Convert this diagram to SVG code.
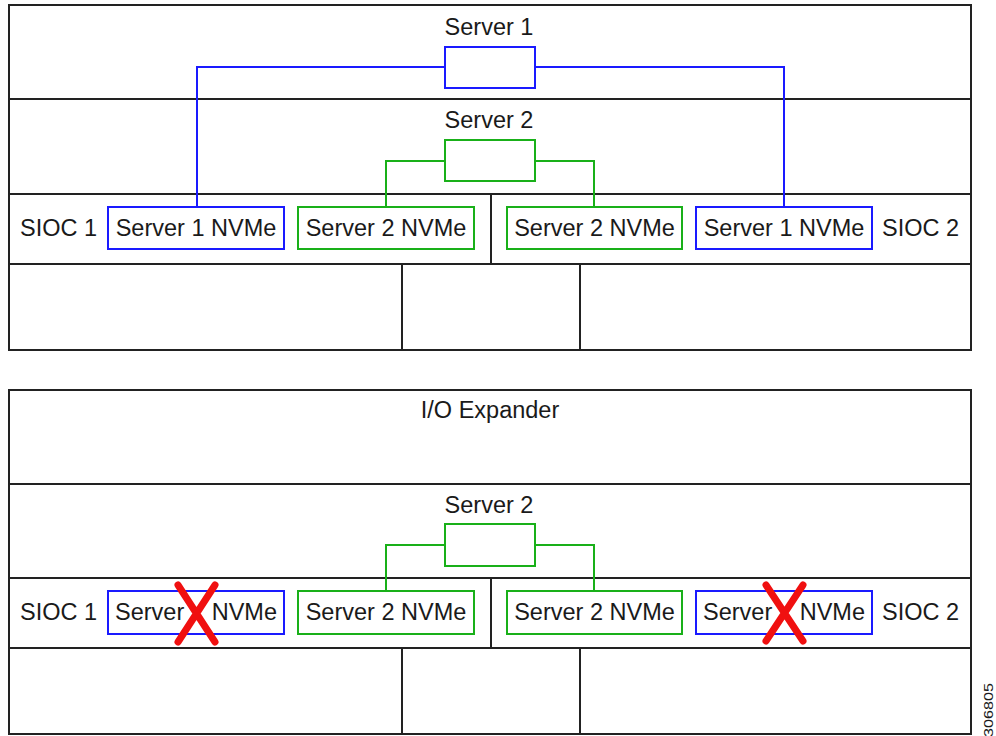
<svg xmlns="http://www.w3.org/2000/svg" width="996" height="736" viewBox="0 0 996 736">
<style>
  .frame{fill:none;stroke:#222;stroke-width:2}
  .div{stroke:#222;stroke-width:2;fill:none}
  .blue{fill:#fff;stroke:#1a1aff;stroke-width:2}
  .green{fill:#fff;stroke:#19b019;stroke-width:2}
  .bl{fill:none;stroke:#1a1aff;stroke-width:2}
  .gl{fill:none;stroke:#19b019;stroke-width:2}
  .t{font-family:"Liberation Sans",Arial,sans-serif;font-size:23.5px;fill:#1a1a1a}
  .m{text-anchor:middle}
  .x{stroke:#f01010;stroke-width:7;stroke-linecap:round;fill:none}
</style>
<rect width="996" height="736" fill="#fff"/>

<g id="top-chassis">
  <rect class="frame" x="9" y="5" width="962" height="345"/>
  <path class="div" d="M9,99H971M9,194H971M9,264H971M491,194V264M402,264V350M580,264V350"/>
  <text class="t" x="20" y="236">SIOC 1</text>
  <text class="t" x="882" y="236">SIOC 2</text>
</g>

<g id="bottom-chassis">
  <rect class="frame" x="9" y="390" width="962" height="344"/>
  <path class="div" d="M9,484H971M9,578H971M9,648H971M491,578V648M402,648V734M580,648V734"/>
  <text class="t m" x="490" y="418">I/O Expander</text>
  <text class="t" x="20" y="620">SIOC 1</text>
  <text class="t" x="882" y="620">SIOC 2</text>
</g>

<g id="connectors">
  <path class="bl" d="M197,207V67H445M535,67H784V207"/>
  <path class="gl" d="M386,207V161H445M535,161H594V207"/>
  <path class="gl" d="M386,591V545H445M535,545H594V591"/>
</g>

<g id="server1-top">
  <text class="t m" x="489" y="35">Server 1</text>
  <rect class="blue" x="445" y="47" width="90" height="41"/>
</g>
<g id="server2-top">
  <text class="t m" x="489" y="128">Server 2</text>
  <rect class="green" x="445" y="140" width="90" height="41"/>
</g>
<g id="server2-bottom">
  <text class="t m" x="489" y="513">Server 2</text>
  <rect class="green" x="445" y="524" width="90" height="42"/>
</g>

<g id="top-nvme-s1-left">
  <rect class="blue" x="108" y="207" width="176" height="42"/>
  <text class="t m" x="196" y="236">Server 1 NVMe</text>
</g>
<g id="top-nvme-s2-left">
  <rect class="green" x="298" y="207" width="176" height="42"/>
  <text class="t m" x="386" y="236">Server 2 NVMe</text>
</g>
<g id="top-nvme-s2-right">
  <rect class="green" x="507" y="207" width="175" height="42"/>
  <text class="t m" x="594.5" y="236">Server 2 NVMe</text>
</g>
<g id="top-nvme-s1-right">
  <rect class="blue" x="696" y="207" width="176" height="42"/>
  <text class="t m" x="784" y="236">Server 1 NVMe</text>
</g>

<g id="bottom-nvme-s1-left">
  <rect class="blue" x="108" y="591" width="176" height="43"/>
  <text class="t" x="115" y="620">Server</text>
  <text class="t" x="277" y="620" text-anchor="end">NVMe</text>
  <path class="x" d="M178,585L215,642M215,585L178,642"/>
</g>
<g id="bottom-nvme-s2-left">
  <rect class="green" x="298" y="591" width="176" height="43"/>
  <text class="t m" x="386" y="620">Server 2 NVMe</text>
</g>
<g id="bottom-nvme-s2-right">
  <rect class="green" x="507" y="591" width="175" height="43"/>
  <text class="t m" x="594.5" y="620">Server 2 NVMe</text>
</g>
<g id="bottom-nvme-s1-right">
  <rect class="blue" x="696" y="591" width="176" height="43"/>
  <text class="t" x="703" y="620">Server</text>
  <text class="t" x="865" y="620" text-anchor="end">NVMe</text>
  <path class="x" d="M766,585L803,641M803,585L766,641"/>
</g>

<text font-family="Liberation Sans,Arial,sans-serif" font-size="12" fill="#1a1a1a" transform="translate(993,737) rotate(-90)" textLength="54" lengthAdjust="spacingAndGlyphs">306805</text>
</svg>
